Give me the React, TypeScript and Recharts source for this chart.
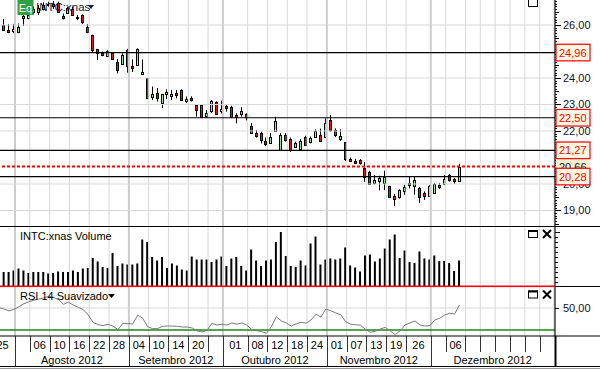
import React from "react";
import { ComposedChart, Bar, Line, XAxis, YAxis, ReferenceLine } from "recharts";

const FONT = "'Liberation Sans', Arial, sans-serif";

// one entry per trading day, 26/07/2012 .. 10/12/2012 (slot 0 = 01/08/2012)
const firstSlot = -4;

const opens = [
  26.1, 26.0, 25.8, 25.76, 25.75, 26.25, 26.25, 26.5, 26.5, 26.6,
  26.76, 26.8, 26.82, 26.35, 26.46, 26.59, 26.3, 26.38, 25.94, 25.62,
  25.08, 24.96, 24.84, 24.96, 24.62, 24.52, 25.05, 24.45, 24.5, 24.16,
  23.99, 23.3, 23.42, 23.05, 23.38, 23.31, 23.42, 23.55, 23.14, 23.23,
  22.98, 22.98, 22.58, 22.75, 23.1, 22.74, 22.94, 22.92, 22.6, 22.65,
  22.63, 22.19, 21.94, 21.91, 21.63, 21.54, 22.01, 21.29, 21.85, 21.7,
  21.41, 21.32, 21.76, 21.57, 21.79, 21.83, 21.79, 22.42, 22.04, 21.7,
  21.57, 20.94, 20.88, 20.9, 20.62, 20.46, 20.03, 20.1, 20.03, 19.92,
  19.55, 19.52, 19.72, 20.04, 19.92, 19.84, 19.65, 19.55, 19.66, 19.96,
  20.0, 20.34, 20.19, 20.1,
];
const highs = [
  26.28, 26.22, 26.04, 26.04, 26.06, 26.43, 26.44, 26.7, 26.75, 26.85,
  26.88, 26.9, 26.88, 26.43, 26.68, 26.69, 26.38, 26.4, 26.04, 25.63,
  25.1, 25.0, 25.05, 24.98, 24.72, 24.93, 25.1, 24.7, 25.12, 24.7,
  24.0, 23.68, 23.62, 23.4, 23.57, 23.55, 23.55, 23.57, 23.3, 23.31,
  23.0, 23.0, 22.79, 23.17, 23.12, 23.15, 23.0, 22.95, 22.67, 22.9,
  22.67, 22.3, 22.04, 21.98, 21.75, 21.92, 22.54, 21.92, 21.92, 21.75,
  21.6, 21.69, 21.82, 21.79, 22.06, 22.09, 22.48, 22.6, 22.1, 22.06,
  21.58, 21.0, 20.95, 20.94, 20.82, 20.5, 20.34, 20.31, 20.5, 19.93,
  19.62, 19.8, 19.97, 20.3, 20.3, 19.88, 19.72, 19.96, 20.04, 20.04,
  20.34, 20.38, 20.22, 20.76,
];
const lows = [
  25.86, 25.78, 25.69, 25.69, 25.69, 25.96, 26.22, 26.4, 26.38, 26.55,
  26.69, 26.6, 26.48, 26.21, 26.42, 26.37, 26.18, 26.04, 25.69, 24.98,
  24.68, 24.82, 24.8, 24.7, 24.17, 24.49, 24.2, 24.23, 24.47, 24.11,
  23.2, 23.17, 23.11, 22.87, 23.2, 23.17, 23.23, 23.15, 23.06, 23.11,
  22.54, 22.5, 22.49, 22.68, 22.6, 22.66, 22.73, 22.52, 22.29, 22.54,
  22.4, 21.88, 21.75, 21.53, 21.43, 21.53, 21.97, 21.27, 21.6, 21.21,
  21.36, 21.28, 21.44, 21.53, 21.75, 21.6, 21.75, 21.97, 21.77, 21.63,
  20.87, 20.84, 20.76, 20.73, 20.08, 19.98, 19.98, 19.76, 19.77, 19.5,
  19.17, 19.45, 19.6, 19.83, 19.6, 19.28, 19.4, 19.52, 19.62, 19.82,
  19.96, 20.09, 20.0, 20.08,
];
const closes = [
  25.98, 25.82, 25.73, 25.86, 25.94, 26.35, 26.37, 26.59, 26.63, 26.75,
  26.8, 26.7, 26.5, 26.28, 26.63, 26.39, 26.25, 26.13, 25.72, 25.06,
  24.93, 24.87, 25.02, 24.72, 24.3, 24.87, 24.45, 24.37, 25.1, 24.23,
  23.25, 23.4, 23.24, 23.38, 23.47, 23.4, 23.36, 23.17, 23.21, 23.17,
  22.79, 22.54, 22.67, 23.12, 22.65, 22.82, 22.87, 22.54, 22.52, 22.76,
  22.53, 21.92, 21.81, 21.66, 21.51, 21.79, 22.39, 21.83, 21.67, 21.27,
  21.54, 21.63, 21.47, 21.72, 22.01, 21.63, 22.31, 22.04, 21.86, 21.8,
  20.94, 20.85, 20.79, 20.8, 20.25, 20.0, 20.15, 20.24, 20.28, 19.52,
  19.42, 19.77, 19.9, 19.97, 20.15, 19.52, 19.56, 19.92, 19.99, 19.88,
  20.19, 20.16, 20.12, 20.66,
];
// volume, millions of shares
const volumes = [
  38, 30, 30, 33, 37, 33, 28, 30, 30, 30,
  27, 28, 31, 30, 30, 33, 30, 37, 38, 58,
  51, 40, 38, 68, 42, 47, 45, 45, 47, 95,
  90, 60, 53, 60, 38, 47, 43, 35, 33, 61,
  55, 55, 55, 50, 55, 61, 42, 57, 60, 42,
  33, 75, 53, 42, 53, 55, 90, 110, 62, 42,
  40, 53, 43, 87, 101, 45, 55, 57, 55, 57,
  79, 43, 39, 31, 63, 65, 51, 57, 77, 95,
  105, 58, 73, 50, 48, 71, 57, 55, 63, 52,
  52, 48, 32, 53,
];
const rsi14 = [
  50.3, 49, 47.3, 48.8, 51.2, 53.9, 55.7, 57, 58.2, 59.1,
  60.6, 59.7, 57.5, 53.4, 55.2, 52.7, 50.6, 48.5, 43.6, 36.7,
  34.9, 33.9, 35.2, 33.6, 30.3, 36.1, 35.8, 35.5, 43.6, 40.6,
  33, 31.2, 31.2, 33.3, 33.6, 33.6, 33.3, 32.7, 32.7, 31.8,
  29.1, 28.2, 29.7, 36.1, 34.5, 35.2, 34.5, 36.4, 35.2, 36.4,
  34.5, 30.6, 29.4, 28.5, 27, 33, 42.1, 38.2, 36.4, 33.6,
  35.5, 37, 36.1, 39.1, 44.3, 41.8, 49.1, 47.5, 45.5, 43.9,
  37.5, 35.2, 34.8, 34.3, 30.6, 27.9, 28.8, 30.9, 32.4, 29.1,
  25.8, 29.1, 34.5, 36.4, 38.2, 34.5, 33.6, 33.9, 39.1, 40.6,
  43.6, 45.2, 44.5, 52.7,
];

// date axis (slots of trading days)
const separatorSlots = [-5, 0, 3, 7, 11, 15, 19, 23, 27, 31, 35, 39, 42, 47, 51, 55, 59, 63, 67, 71, 75, 79, 84, 87, 91, 94, 97, 100, 103, 106, 109];
const dayLabelSlots = [-5, 3, 7, 11, 15, 19, 23, 27, 31, 35, 42, 47, 51, 55, 59, 63, 67, 71, 75, 79, 87];
const dayLabels = ["25", "06", "10", "16", "22", "28", "04", "10", "14", "20", "01", "08", "12", "18", "24", "01", "07", "13", "19", "26", "06"];
const monthSlots = [0, 23, 42, 63, 84, 109];
const monthLabels = ["Agosto 2012", "Setembro 2012", "Outubro 2012", "Novembro 2012", "Dezembro 2012"];

// price panel
const priceLabels = [19, 20, 22, 23, 24, 26];
const levelLines = [24.96, 22.5, 21.27, 20.28];
const lastPrice = 20.66;
const rsiLevel = 30;
const rsiLabels = [50];

const X_MIN = -3.03;
const X_MAX = 109.09;
const P_MIN = 18.415;
const P_MAX = 26.943;
const R_MIN = 24.5;
const R_MAX = 69.1;

const rows = opens.map((o, i) => ({
  pos: firstSlot + i + 0.8,
  o,
  h: highs[i],
  l: lows[i],
  c: closes[i],
  v: volumes[i],
  rsi: rsi14[i],
}));

const fmt = (v: number) => v.toFixed(2).replace(".", ",");
const keyOf = (v: number) => v.toFixed(3);

const gridInDomain = separatorSlots.filter((s) => s >= X_MIN && s <= X_MAX);

const minorTicks: number[] = [];
for (let t = 185; t <= 269; t++) {
  const v = t / 10;
  if (![...levelLines, lastPrice].some((b) => Math.abs(b - v) < 1e-6)) minorTicks.push(v);
}
const boxTicks = [lastPrice, ...levelLines];
const priceTicks = [...minorTicks, ...boxTicks];

const labelCenter = new Map<string, string>();
dayLabelSlots.forEach((s, i) => {
  const next = separatorSlots[separatorSlots.indexOf(s) + 1];
  labelCenter.set(keyOf((s + next) / 2), dayLabels[i]);
});
const dayTicks = [...gridInDomain, ...dayLabelSlots.map((s) => {
  const next = separatorSlots[separatorSlots.indexOf(s) + 1];
  return (s + next) / 2;
})];

const monthCenter = new Map<string, string>();
monthLabels.forEach((m, i) => monthCenter.set(keyOf((monthSlots[i] + monthSlots[i + 1]) / 2), m));
const monthTicks = [...monthSlots.slice(0, -1), ...monthLabels.map((_, i) => (monthSlots[i] + monthSlots[i + 1]) / 2)];

const Candle = (props: any) => {
  const { x, y, width, height, payload } = props;
  if (!payload || x == null) return null;
  const { o, h, l, c } = payload;
  const top = Math.min(y, y + height);
  const span = Math.abs(height);
  const ppu = h === l ? 0 : span / (h - l);
  const py = (v: number) => top + (h - v) * ppu;
  const col = Math.floor(x + width / 2);
  const up = c >= o;
  const bTop = Math.round(py(Math.max(o, c))) + 0.5;
  const bBot = Math.max(Math.round(py(Math.min(o, c))) + 0.5, bTop + 1);
  return (
    <g>
      <line x1={col + 0.5} x2={col + 0.5} y1={top} y2={top + span} stroke="#000" strokeWidth={1} />
      <rect x={col - 0.5} y={bTop} width={2} height={bBot - bTop} fill={up ? "#98e698" : "#ee1111"} stroke="#000" strokeWidth={1} />
    </g>
  );
};

const PriceTick = (props: any) => {
  const { x, y, payload, index } = props;
  const v = payload.value;
  if (index >= minorTicks.length) {
    const isLast = index === minorTicks.length;
    return (
      <g>
        <rect x={556} y={y - 8.3} width={34} height={16.6} fill={isLast ? "#f4efd2" : "#fdf8e2"} stroke={isLast ? "none" : "#ff0000"} strokeWidth={1.2} />
        <text x={559} y={y + 4} fontSize={11} fontFamily={FONT} fill={isLast ? "#111" : "#ff0000"}>{fmt(v)}</text>
      </g>
    );
  }
  const major = Math.abs(v - Math.round(v)) < 1e-6;
  const half = Math.abs(v * 2 - Math.round(v * 2)) < 1e-6;
  const len = major ? 6 : half ? 4 : 2;
  const show = major && priceLabels.includes(Math.round(v));
  return (
    <g>
      <line x1={x} x2={x + len} y1={Math.round(y) + 0.5} y2={Math.round(y) + 0.5} stroke="#000" />
      {show && (
        <text x={x + 8} y={y + 4} fontSize={11} fontFamily={FONT} fill="#101030">{fmt(v)}</text>
      )}
    </g>
  );
};

const VolTick = (props: any) => {
  const { x, y, payload } = props;
  const len = payload.value === 110 ? 5 : 3;
  return <line x1={x} x2={x + len} y1={Math.round(y) + 0.5} y2={Math.round(y) + 0.5} stroke="#000" />;
};

const RsiTick = (props: any) => {
  const { x, y, payload } = props;
  return (
    <g>
      <line x1={x} x2={x + 4} y1={Math.round(y) + 0.5} y2={Math.round(y) + 0.5} stroke="#000" />
      <text x={x + 8} y={y + 4} fontSize={11} fontFamily={FONT} fill="#101030">{fmt(payload.value)}</text>
    </g>
  );
};

const DayTick = (props: any) => {
  const { x, y, payload } = props;
  const lab = labelCenter.get(keyOf(payload.value));
  if (lab) {
    return <text x={x} y={y + 12.5} textAnchor="middle" fontSize={11} fontFamily={FONT} fill="#000">{lab}</text>;
  }
  const px = Math.round(x) + 0.5;
  return <line x1={px} x2={px} y1={y} y2={y + 16} stroke="#333" />;
};

const MonthTick = (props: any) => {
  const { x, y, payload } = props;
  const lab = monthCenter.get(keyOf(payload.value));
  if (lab) {
    return <text x={x} y={y + 11.5} textAnchor="middle" fontSize={11} fontFamily={FONT} fill="#000">{lab}</text>;
  }
  const px = Math.round(x) + 0.5;
  return <line x1={px} x2={px} y1={y} y2={y + 15} stroke="#333" />;
};

const vGrid = () =>
  gridInDomain.map((s) => {
    const month = monthSlots.includes(s);
    return (
      <ReferenceLine key={`vg-${s}`} x={s} stroke={month ? "#cccccc" : "#d8d8d8"} strokeWidth={month ? 2 : 1} />
    );
  });

const MaxIcons = ({ y }: { y: number }) => (
  <g>
    <rect x={528.5} y={y + 0.5} width={9} height={7} fill="#fff" stroke="#000" strokeWidth={1} />
    <line x1={528} x2={538} y1={y + 1} y2={y + 1} stroke="#000" strokeWidth={2} />
    <line x1={543} x2={551} y1={y} y2={y + 8} stroke="#000" strokeWidth={2} />
    <line x1={551} x2={543} y1={y} y2={y + 8} stroke="#000" strokeWidth={2} />
  </g>
);

export default function App() {
  return (
    <div style={{ position: "absolute", left: 0, top: 0, width: 600, height: 370, background: "#fff", fontFamily: FONT, overflow: "hidden" }}>
      {/* price */}
      <div style={{ position: "absolute", left: 0, top: 0 }}>
        <ComposedChart width={600} height={226} data={rows} margin={{ top: 0, right: 0, bottom: 0, left: 0 }}>
          <XAxis type="number" dataKey="pos" domain={[X_MIN, X_MAX]} allowDataOverflow hide />
          <YAxis
            orientation="right"
            width={45}
            type="number"
            domain={[P_MIN, P_MAX]}
            allowDataOverflow
            ticks={priceTicks}
            interval={0}
            tickLine={false}
            tickSize={0}
            tickMargin={0}
            axisLine={{ stroke: "#000" }}
            tick={(p: any) => <PriceTick {...p} />}
          />
          {vGrid()}
          {priceLabels.map((v) => (
            <ReferenceLine key={`hg-${v}`} y={v} stroke="#d8d8d8" />
          ))}
          {levelLines.map((v) => (
            <ReferenceLine key={`lv-${v}`} y={v} stroke="#000" strokeWidth={1.2} />
          ))}
          <ReferenceLine y={lastPrice} stroke="#ff0000" strokeWidth={2} strokeDasharray="3 2" />
          <Bar dataKey={(d: any) => [d.l, d.h]} barSize={4} isAnimationActive={false} shape={(p: any) => <Candle {...p} />} />
        </ComposedChart>
      </div>

      {/* volume */}
      <div style={{ position: "absolute", left: 0, top: 227 }}>
        <ComposedChart width={600} height={60} data={rows} margin={{ top: 0, right: 0, bottom: 0, left: 0 }}>
          <XAxis type="number" dataKey="pos" domain={[X_MIN, X_MAX]} allowDataOverflow hide />
          <YAxis
            orientation="right"
            width={45}
            type="number"
            domain={[0, 120]}
            allowDataOverflow
            ticks={[10, 20, 30, 40, 50, 60, 70, 80, 90, 100, 110]}
            interval={0}
            tickLine={false}
            tickSize={0}
            tickMargin={0}
            axisLine={{ stroke: "#000" }}
            tick={(p: any) => <VolTick {...p} />}
          />
          {vGrid()}
          <Bar dataKey="v" barSize={2} fill="#000" isAnimationActive={false} />
        </ComposedChart>
      </div>

      {/* rsi + date axis */}
      <div style={{ position: "absolute", left: 0, top: 287 }}>
        <ComposedChart width={600} height={82} data={rows} margin={{ top: 0, right: 0, bottom: 0, left: 0 }}>
          <XAxis
            xAxisId={0}
            type="number"
            dataKey="pos"
            domain={[X_MIN, X_MAX]}
            allowDataOverflow
            ticks={dayTicks}
            interval={0}
            height={16}
            tickLine={false}
            axisLine={false}
            tickSize={0}
            tickMargin={0}
            tick={(p: any) => <DayTick {...p} />}
          />
          <XAxis
            xAxisId={1}
            type="number"
            dataKey="pos"
            domain={[X_MIN, X_MAX]}
            allowDataOverflow
            ticks={monthTicks}
            interval={0}
            height={17}
            tickLine={false}
            axisLine={false}
            tickSize={0}
            tickMargin={0}
            tick={(p: any) => <MonthTick {...p} />}
          />
          <YAxis
            orientation="right"
            width={45}
            type="number"
            domain={[R_MIN, R_MAX]}
            allowDataOverflow
            ticks={rsiLabels}
            interval={0}
            tickLine={false}
            tickSize={0}
            tickMargin={0}
            axisLine={{ stroke: "#000" }}
            tick={(p: any) => <RsiTick {...p} />}
          />
          {vGrid()}
          {rsiLabels.map((v) => (
            <ReferenceLine key={`rg-${v}`} y={v} stroke="#d8d8d8" />
          ))}
          <ReferenceLine y={rsiLevel} stroke="#1a8a1a" strokeWidth={1.5} />
          <Line dataKey="rsi" stroke="#7a7a7a" strokeWidth={1} dot={false} isAnimationActive={false} />
        </ComposedChart>
      </div>

      {/* frame, titles, icons */}
      <svg width={600} height={370} style={{ position: "absolute", left: 0, top: 0, pointerEvents: "none" }}>
        <line x1={0} x2={600} y1={226.5} y2={226.5} stroke="#000" />
        <rect x={0} y={285.5} width={555} height={1.6} fill="#ff0000" />
        <line x1={555} x2={600} y1={286.5} y2={286.5} stroke="#000" />
        <line x1={0} x2={600} y1={336} y2={336} stroke="#000" strokeWidth={1.2} />
        <line x1={555.5} x2={555.5} y1={336} y2={367} stroke="#000" strokeWidth={2} />
        <line x1={0} x2={600} y1={366.5} y2={366.5} stroke="#000" />
        <line x1={0} x2={600} y1={368.5} y2={368.5} stroke="#999" />

        <rect x={17.5} y={0} width={16} height={15} fill="#2f9e45" />
        <text x={25.5} y={11.5} textAnchor="middle" fontSize={11} fontFamily={FONT} fill="#fff">Eq</text>
        <text x={36} y={10.5} fontSize={11.5} fontFamily={FONT} fill="#1a1a3a">INTC:xnas</text>
        <polygon points="88,5 94,5 91,9" fill="#1a1a3a" />
        <rect x={528.5} y={-3.5} width={9} height={10} fill="#fff" stroke="#000" />

        <text x={20} y={239.5} fontSize={11} fontFamily={FONT} fill="#000">INTC:xnas Volume</text>
        <MaxIcons y={230} />
        <text x={20} y={299.5} fontSize={11} fontFamily={FONT} fill="#000">RSI 14 Suavizado</text>
        <polygon points="108,294 115,294 111.5,298" fill="#000" />
        <MaxIcons y={290.5} />
      </svg>
    </div>
  );
}
